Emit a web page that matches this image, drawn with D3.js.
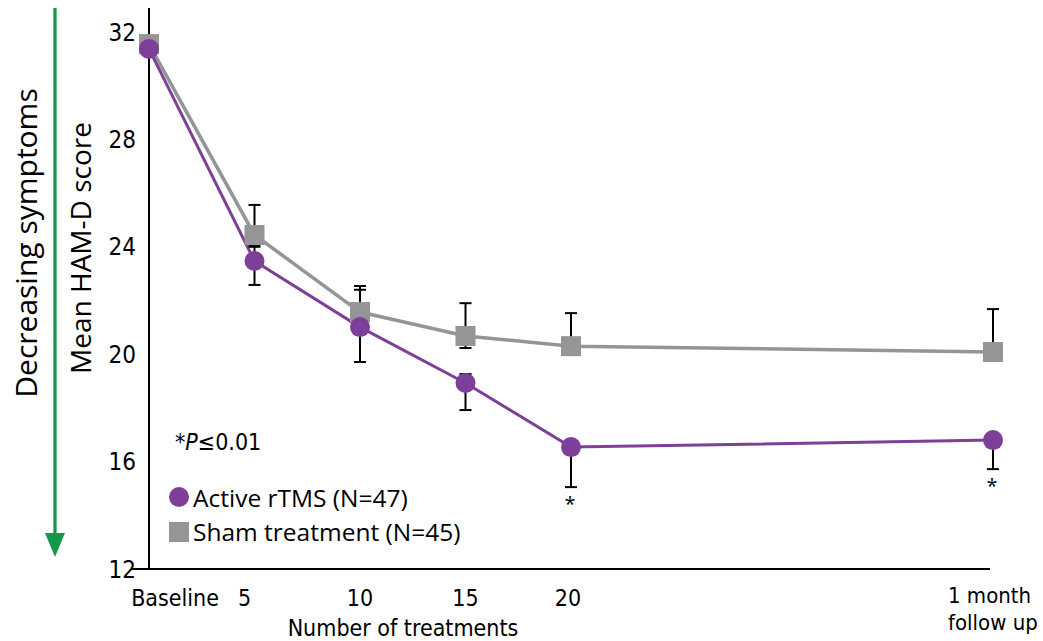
<!DOCTYPE html>
<html><head><meta charset="utf-8">
<script src="https://cdn.jsdelivr.net/npm/d3@7"></script>
<style>body{margin:0;background:#fff}svg{display:block}</style>
</head><body><svg id="c" width="1043" height="641"></svg>
<script>
const categories = ["Baseline","5","10","15","20","1 month follow up"];
const catPos = [0,1,2,3,4,8];
const yTicks = [12,16,20,24,28,32];
const activeMean = [31.37,23.47,21.01,18.93,16.54,16.8];
const activeHi   = [null,24.0,22.4,19.26,null,null];
const activeLo   = [null,22.58,19.71,17.92,15.05,15.72];
const shamMean = [31.55,24.44,21.57,20.68,20.3,20.08];
const shamHi   = [null,25.56,22.54,21.9,21.53,21.68];
const shamLo   = [null,24.07,null,20.23,null,null];
const sigFlags = [false,false,false,false,true,true];
const legendLabels = ["Active rTMS (N=47)","Sham treatment (N=45)"];

const purple = "#7d3f98", gray = "#959597", green = "#179848";
const narrow = "'Liberation Sans Narrow','DejaVu Sans Condensed',sans-serif";
const svg = d3.select("#c");
const x = d3.scaleLinear().domain([0,8]).range([149,993]);
const y = d3.scaleLinear().domain([12,32]).range([569,32]);

// green arrow
svg.append("line").attr("x1",55).attr("x2",55).attr("y1",8).attr("y2",537)
  .attr("stroke",green).attr("stroke-width",3.3);
svg.append("path").attr("d","M45,533L65,533L55,557Z").attr("fill",green);
svg.append("text").attr("transform","translate(37,243) rotate(-90)")
  .attr("text-anchor","middle").attr("font-family","'Open Sans',sans-serif")
  .attr("font-size",30).text("Decreasing symptoms");
svg.append("text").attr("transform","translate(91,248) rotate(-90)")
  .attr("text-anchor","middle").attr("font-family","'Open Sans',sans-serif")
  .attr("font-size",28).text("Mean HAM-D score");

// axes
svg.append("line").attr("x1",149).attr("x2",149).attr("y1",8).attr("y2",569)
  .attr("stroke","#000").attr("stroke-width",2);
svg.append("line").attr("x1",132).attr("x2",990).attr("y1",569).attr("y2",569)
  .attr("stroke","#000").attr("stroke-width",2);
svg.selectAll("text.yt").data(yTicks).join("text").attr("class","yt")
  .attr("x",136).attr("y",d=>y(d)).attr("dy","0.36em").attr("text-anchor","end")
  .attr("font-family",narrow).attr("font-size",24).text(d=>d);

const xOff = [26,-10,0,0,-3,-45];
categories.forEach((c,i)=>{
  const t = svg.append("text").attr("x",x(catPos[i])+xOff[i]).attr("y",i===5?603:606)
    .attr("text-anchor", i===5?"start":"middle")
    .attr("font-family",narrow).attr("font-size",i===5?22:23);
  if(i===5){
    t.append("tspan").attr("x",x(catPos[i])+xOff[i]).text("1 month");
    t.append("tspan").attr("x",x(catPos[i])+xOff[i]).attr("dy",27).text("follow up");
  } else t.text(c);
});
svg.append("text").attr("x",403).attr("y",636).attr("text-anchor","middle")
  .attr("font-family",narrow).attr("font-size",23).text("Number of treatments");

// lines
const line = d3.line().x((d,i)=>x(catPos[i])).y(d=>y(d));
svg.append("path").attr("d",line(shamMean)).attr("fill","none").attr("stroke",gray).attr("stroke-width",3.5);
svg.append("path").attr("d",line(activeMean)).attr("fill","none").attr("stroke",purple).attr("stroke-width",3);

// error bars
function errs(mean,hi,lo){
  const g = svg.append("g").attr("stroke","#000").attr("stroke-width",2);
  mean.forEach((m,i)=>{
    [hi[i],lo[i]].forEach(v=>{
      if(v==null) return;
      const cx = x(catPos[i]);
      g.append("line").attr("x1",cx).attr("x2",cx).attr("y1",y(m)).attr("y2",y(v));
      g.append("line").attr("x1",cx-6).attr("x2",cx+6).attr("y1",y(v)).attr("y2",y(v));
    });
  });
}
errs(shamMean,shamHi,shamLo);
errs(activeMean,activeHi,activeLo);

// markers
svg.selectAll("rect.sm").data(shamMean).join("rect").attr("class","sm")
  .attr("x",(d,i)=>x(catPos[i])-10).attr("y",d=>y(d)-10).attr("width",20).attr("height",20).attr("fill",gray);
svg.selectAll("circle.am").data(activeMean).join("circle").attr("class","am")
  .attr("cx",(d,i)=>x(catPos[i])).attr("cy",d=>y(d)).attr("r",10).attr("fill",purple);

// significance stars
activeMean.forEach((m,i)=>{
  if(!sigFlags[i]) return;
  svg.append("text").attr("x",x(catPos[i])-1).attr("y",y(activeLo[i])+24)
    .attr("text-anchor","middle").attr("font-family","'Open Sans',sans-serif")
    .attr("font-size",20).text("*");
});

// p-value note
const pt = svg.append("text").attr("x",175).attr("y",450).attr("font-family",narrow).attr("font-size",23);
pt.append("tspan").text("*");
pt.append("tspan").attr("font-style","italic").text("P");
pt.append("tspan").text("≤0.01");

// legend
svg.append("circle").attr("cx",179).attr("cy",497).attr("r",10).attr("fill",purple);
svg.append("rect").attr("x",169).attr("y",522).attr("width",20).attr("height",20).attr("fill",gray);
legendLabels.forEach((l,i)=>{
  svg.append("text").attr("x",193).attr("y",507+i*34).attr("font-family","'Open Sans',sans-serif")
    .attr("font-size",24.5).text(l);
});
</script></body></html>
